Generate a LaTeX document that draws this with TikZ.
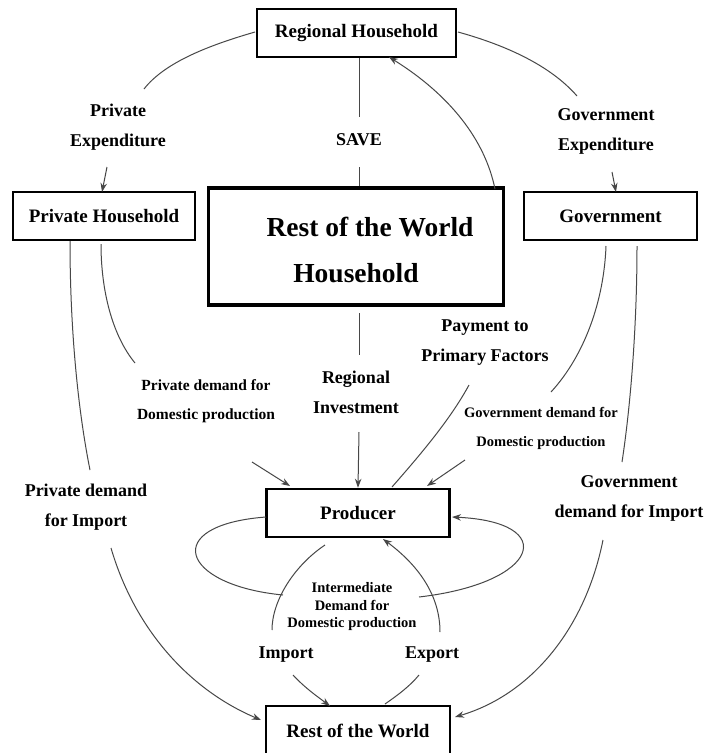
\documentclass[tikz,border=0pt]{standalone}
\usepackage{fontspec}
\setmainfont{Liberation Serif}
\usetikzlibrary{arrows.meta}
\tikzset{
  box/.style={draw=black, line width=2.5pt, fill=white, inner sep=0pt, align=center,
    font=\fontsize{19}{20}\selectfont\bfseries},
  bigbox/.style={draw=black, line width=3.8pt, inner sep=0pt, align=center},
  lbl/.style={inner sep=0pt, align=center, font=\fontsize{18}{30}\selectfont\bfseries},
  slbl/.style={inner sep=0pt, align=center, font=\fontsize{14.5}{29}\selectfont\bfseries},
  conn/.style={draw=black!72, line width=1pt},
  arr/.style={conn, -{Stealth[length=9pt,width=6.5pt]}},
}
\begin{document}
\begin{tikzpicture}[x=1pt,y=-1pt]
\clip (0,0) rectangle (707,753);
\fill[white] (0,0) rectangle (707,753);

% boxes
\node[box, minimum width=199pt, minimum height=48pt] (rh) at (356.5,33) {Regional Household};
\node[box, minimum width=182pt, minimum height=48pt] (ph) at (104,216) {Private Household};
\node[box, minimum width=173pt, minimum height=48pt] (gov) at (610.5,216) {Government};
\node[bigbox, minimum width=295pt, minimum height=117pt] (big) at (356,246.5) {};
\node[inner sep=0pt, font=\fontsize{27.5}{30}\selectfont\bfseries] (bigt1) at (370,227) {Rest of the World};
\node[inner sep=0pt, font=\fontsize{27.5}{30}\selectfont\bfseries] (bigt2) at (356,273) {Household};
\node[box, minimum width=183pt, minimum height=48pt] (prod) at (358,513) {Producer};
\node[box, minimum width=184pt, minimum height=50pt] (row) at (358,731) {Rest of the World};

% labels
\node[lbl] (pexp) at (118,127) {Private\\Expenditure};
\node[lbl] (save) at (359,140) {SAVE};
\node[lbl] (gexp) at (606,131) {Government\\Expenditure};
\node[slbl, font=\fontsize{15.5}{29}\selectfont\bfseries] (pdd) at (206,401) {Private demand for\\Domestic production};
\node[lbl] (rinv) at (356,392) {Regional\\Investment};
\node[lbl] (ppf) at (485,343) {Payment to\\Primary Factors};
\node[slbl] (gdd) at (541,428) {Government demand for\\Domestic production};
\node[lbl] (pdi) at (86,507) {Private demand\\for Import};
\node[lbl] (gdi) at (629,498) {Government\\demand for Import};
\node[inner sep=0pt, align=center, font=\fontsize{14.5}{17.5}\selectfont\bfseries] (idd) at (352,607) {Intermediate\\Demand for\\Domestic production};
\node[lbl] (imp) at (286,655) {Import};
\node[lbl] (exp) at (432,655) {Export};

% free ends
\coordinate (a1) at (144,89);
\coordinate (a2) at (107,167);
\coordinate (s1) at (359,117);
\coordinate (s2) at (359,167);
\coordinate (bigne) at (495,189);
\coordinate (rhse) at (389,57);
\coordinate (g1) at (577,96);
\coordinate (g2) at (612,172);
\coordinate (pl1) at (90,470);
\coordinate (pl2) at (111,548);
\coordinate (pd1) at (135,363);
\coordinate (pd2) at (252,462);
\coordinate (r1) at (359,313);
\coordinate (r2) at (359,355);
\coordinate (r3) at (359,432);
\coordinate (pp1) at (469,385);
\coordinate (pp2) at (392,487);
\coordinate (gd1) at (551,392);
\coordinate (gd2) at (465,460);
\coordinate (gi1) at (622,462);
\coordinate (gi2) at (603,540);
\coordinate (ll) at (283,595);
\coordinate (rl) at (419,597);
\coordinate (im1) at (325,545);
\coordinate (im2) at (272,630);
\coordinate (im3) at (293,675);
\coordinate (ex1) at (440,632);
\coordinate (ex2) at (419,675);

% top arcs
\draw[conn] (255,32) .. controls (210,45) and (165,62) .. (a1);
\draw[arr] (a2) -- (102,192);
\draw[conn] (rh.south -| s1) -- (s1);
\draw[conn] (s2) -- (big.north -| s2);
\draw[arr] (bigne) .. controls (485,140) and (450,95) .. (rhse);
\draw[conn] (458,32) .. controls (505,45) and (550,65) .. (g1);
\draw[arr] (g2) -- (616,192);

% private household
\draw[conn] (70,241) .. controls (70,330) and (78,410) .. (pl1);
\draw[arr] (pl2) .. controls (135,630) and (190,690) .. (261,720);
\draw[conn] (101,244) .. controls (101,290) and (112,335) .. (pd1);
\draw[arr] (pd2) -- (290,486);

% investment
\draw[conn] (r1) -- (r2);
\draw[arr] (r3) -- (prod.north);

% payment
\draw[conn] (pp2) .. controls (420,455) and (450,420) .. (pp1);

% government
\draw[conn] (606,246) .. controls (604,300) and (585,355) .. (gd1);
\draw[arr] (gd2) -- (427,486);
\draw[conn] (637,246) .. controls (637,330) and (630,410) .. (gi1);
\draw[arr] (gi2) .. controls (585,630) and (530,695) .. (455,717);

% producer loops
\draw[conn] (266,517) .. controls (160,525) and (180,585) .. (ll);
\draw[arr] (rl) .. controls (540,583) and (560,522) .. (452,517);

% import / export
\draw[conn] (im1) .. controls (295,565) and (272,600) .. (im2);
\draw[arr] (im3) .. controls (305,688) and (318,697) .. (330,706);
\draw[conn] (385,704) .. controls (398,695) and (410,686) .. (ex2);
\draw[arr] (ex1) .. controls (440,595) and (418,565) .. (383,539);
\end{tikzpicture}
\end{document}
